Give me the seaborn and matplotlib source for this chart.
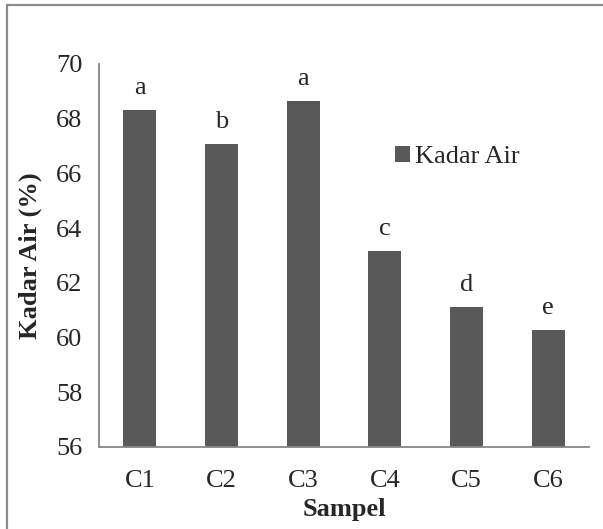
import matplotlib
matplotlib.use("Agg")
import matplotlib.pyplot as plt
import seaborn as sns
import pandas as pd
from matplotlib.patches import Rectangle

categories = ["C1", "C2", "C3", "C4", "C5", "C6"]
values = [68.32, 67.07, 68.63, 63.15, 61.11, 60.27]
letters = ["a", "b", "a", "c", "d", "e"]
yticks = [56, 58, 60, 62, 64, 66, 68, 70]
series_name = "Kadar Air"

sns.set_style("white")
plt.rcParams["font.family"] = ["Liberation Serif", "DejaVu Serif"]

df = pd.DataFrame({"Sampel": categories, "Kadar": values})

fig = plt.figure(figsize=(6.03, 5.29), dpi=100)
ax = fig.add_axes([99 / 603, 1 - 446.7 / 529, (589 - 99) / 603, (446.7 - 64) / 529])

sns.barplot(data=df, x="Sampel", y="Kadar", color="#595959", width=0.4,
            saturation=1, ax=ax, label=series_name)
for p in ax.patches:
    p.set_edgecolor("none")

FS = 19
ax.set_ylim(56, 70)
ax.set_xlim(-0.5, len(categories) - 0.5)
ax.set_yticks(yticks)
ax.set_yticklabels([str(t) for t in yticks], fontsize=FS)
ax.set_xticks(range(len(categories)))
ax.set_xticklabels(categories, fontsize=FS)
ax.set_xticks([i - 0.5 for i in range(len(categories) + 1)], minor=True)
ax.tick_params(axis="x", which="major", length=0, pad=17)
ax.tick_params(axis="x", which="minor", length=6, width=1.3, color="#868686", direction="out")
ax.tick_params(axis="y", length=8, width=1.3, color="#868686", direction="out", pad=4)

for side in ["top", "right"]:
    ax.spines[side].set_visible(False)
for side in ["left", "bottom"]:
    ax.spines[side].set_color("#868686")
    ax.spines[side].set_linewidth(1.3)

ax.set_xlabel("Sampel", fontsize=FS, fontweight="bold", labelpad=4)
ax.set_ylabel("Kadar Air (%)", fontsize=FS, fontweight="bold", labelpad=10)

ax.bar_label(ax.containers[0], labels=letters, padding=8, fontsize=FS)

ax.legend(loc="center left", bbox_to_anchor=(382 / 603, 1 - 157 / 529),
          bbox_transform=fig.transFigure, frameon=False, fontsize=FS,
          handlelength=0.55, handleheight=0.55, handletextpad=0.2, borderpad=0)

fig.patches.append(Rectangle((6.5 / 603, -0.1), 1.2, 1 - 5.5 / 529 + 0.1,
                             transform=fig.transFigure, fill=False,
                             edgecolor="#8c8c8c", linewidth=1.6, figure=fig))

fig.savefig("out.png", dpi=100)
